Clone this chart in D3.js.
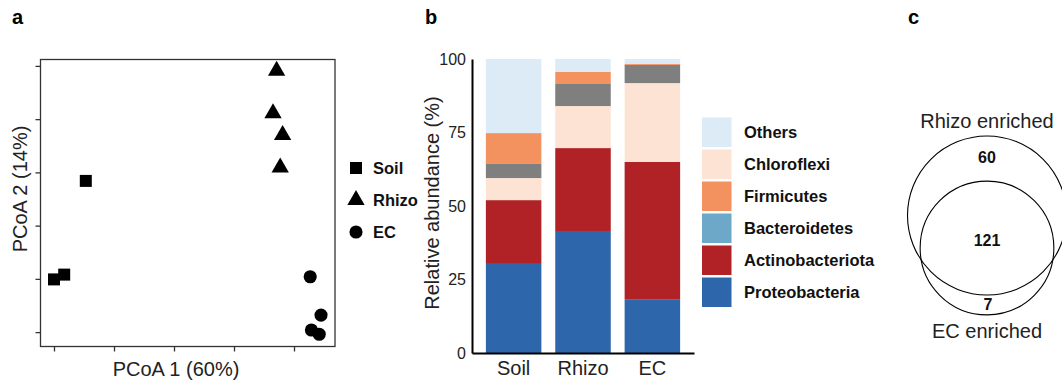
<!DOCTYPE html>
<html>
<head>
<meta charset="utf-8">
<script src="https://cdn.jsdelivr.net/npm/d3@7"></script>
<style>
  body { margin: 0; background: #fff; }
  text { font-family: "Liberation Sans", Arial, sans-serif; }
</style>
</head>
<body>
<div id="plot"></div>
<script>
// ---- panel a: PCoA points (arbitrary units, no tick labels in the figure)
var soilPts  = [[0.00, 0.99], [0.17, 1.08], [0.53, 2.84]];
var rhizoPts = [[3.71, 4.91], [3.65, 4.11], [3.81, 3.70], [3.77, 3.09]];
var ecPts    = [[4.27, 1.04], [4.45, 0.32], [4.29, 0.04], [4.42, -0.04]];
var pcoaXTicks = [0, 1, 2, 3, 4];
var pcoaYTicks = [0, 1, 2, 3, 4, 5];

// ---- panel b: relative abundance (%), stacked bottom -> top
var compartments = ["Soil", "Rhizo", "EC"];
var proteobacteria   = [30.3, 41.5, 18.3];
var actinobacteriota = [21.7, 28.2, 46.7];
var bacteroidetes    = [0, 0, 0];
var chloroflexi      = [7.5, 14.3, 26.8];
var unlisted         = [4.8, 7.5, 6.2];   // grey band, not in the legend
var firmicutes       = [10.5, 4.1, 0.4];
var others           = [25.2, 4.4, 1.6];
var abundanceTicks = [0, 25, 50, 75, 100];
var legendNames = ["Others", "Chloroflexi", "Firmicutes", "Bacteroidetes", "Actinobacteriota", "Proteobacteria"];

// ---- panel c: venn counts
var rhizoOnly = 60;
var shared = 121;
var ecOnly = 7;

var width = 1062, height = 381;
var svg = d3.select("#plot").append("svg")
  .attr("width", width).attr("height", height);

// panel letters
svg.append("text").attr("x", 12).attr("y", 24).attr("font-size", "20px").attr("font-weight", "bold").text("a");
svg.append("text").attr("x", 425).attr("y", 24).attr("font-size", "20px").attr("font-weight", "bold").text("b");
svg.append("text").attr("x", 908).attr("y", 24).attr("font-size", "20px").attr("font-weight", "bold").text("c");

// ================= panel a =================
var xA = d3.scaleLinear().domain([-0.225, 4.683]).range([40.5, 335]);
var yA = d3.scaleLinear().domain([-0.27, 5.12]).range([346.5, 59.5]);

var gA = svg.append("g");
gA.append("rect")
  .attr("x", 40.5).attr("y", 59.5)
  .attr("width", 335 - 40.5).attr("height", 346.5 - 59.5)
  .attr("fill", "none").attr("stroke", "#333").attr("stroke-width", 1.3);

gA.append("g").attr("transform", "translate(0,346.5)")
  .call(d3.axisBottom(xA).tickValues(pcoaXTicks).tickSize(5).tickFormat(""))
  .call(function(g){ g.select(".domain").remove(); })
  .selectAll("line").attr("stroke", "#333").attr("stroke-width", 1.3);

gA.append("g").attr("transform", "translate(40.5,0)")
  .call(d3.axisLeft(yA).tickValues(pcoaYTicks).tickSize(5).tickFormat(""))
  .call(function(g){ g.select(".domain").remove(); })
  .selectAll("line").attr("stroke", "#333").attr("stroke-width", 1.3);

var groupsA = [
  {name: "Soil", pts: soilPts, sym: d3.symbolSquare, size: 144},
  {name: "Rhizo", pts: rhizoPts, sym: d3.symbolTriangle, size: 130},
  {name: "EC", pts: ecPts, sym: d3.symbolCircle, size: 135}
];

groupsA.forEach(function(gr){
  gA.selectAll(null).data(gr.pts).enter().append("path")
    .attr("d", d3.symbol().type(gr.sym).size(gr.size))
    .attr("transform", function(d){ return "translate(" + xA(d[0]) + "," + yA(d[1]) + ")"; })
    .attr("fill", "#000");
});

var legA = gA.selectAll(".legA").data(groupsA).enter().append("g")
  .attr("transform", function(d, i){ return "translate(356," + (168 + i * 32) + ")"; });
legA.append("path")
  .attr("d", function(d){ return d3.symbol().type(d.sym).size(d.size)(); })
  .attr("fill", "#000");
legA.append("text").attr("x", 17).attr("dy", "0.36em")
  .attr("font-size", "16.5px").attr("font-weight", "bold").attr("fill", "#111")
  .text(function(d){ return d.name; });

gA.append("text").attr("x", 176).attr("y", 376)
  .attr("text-anchor", "middle").attr("font-size", "20px").attr("fill", "#222")
  .text("PCoA 1 (60%)");
gA.append("text").attr("transform", "translate(27,189) rotate(-90)")
  .attr("text-anchor", "middle").attr("font-size", "20px").attr("fill", "#222")
  .text("PCoA 2 (14%)");

// ================= panel b =================
var keys = ["Proteobacteria", "Actinobacteriota", "Bacteroidetes", "Chloroflexi", "Unlisted", "Firmicutes", "Others"];
var series = {
  Proteobacteria: proteobacteria, Actinobacteriota: actinobacteriota, Bacteroidetes: bacteroidetes,
  Chloroflexi: chloroflexi, Unlisted: unlisted, Firmicutes: firmicutes, Others: others
};
var color = d3.scaleOrdinal().domain(keys)
  .range(["#2e66ac", "#b02225", "#6ea8c8", "#fde3d3", "#7f7f7f", "#f4925f", "#dcebf6"]);

var table = compartments.map(function(c, i){
  var row = {compartment: c};
  keys.forEach(function(k){ row[k] = series[k][i]; });
  return row;
});
var stacked = d3.stack().keys(keys)(table);

var xB = d3.scaleBand().domain(compartments).range([472, 694]).paddingInner(0.2).paddingOuter(0.2);
var yB = d3.scaleLinear().domain([0, 100]).range([353, 59]);

var gB = svg.append("g");
gB.selectAll(".layer").data(stacked).enter().append("g")
  .attr("fill", function(d){ return color(d.key); })
  .selectAll("rect").data(function(d){ return d; }).enter().append("rect")
  .attr("x", function(d){ return xB(d.data.compartment); })
  .attr("y", function(d){ return yB(d[1]); })
  .attr("width", xB.bandwidth())
  .attr("height", function(d){ return yB(d[0]) - yB(d[1]); });

var yAxisB = gB.append("g").attr("transform", "translate(472,0)")
  .call(d3.axisLeft(yB).tickValues(abundanceTicks).tickSize(0).tickSizeOuter(0).tickPadding(6));
yAxisB.select(".domain").attr("stroke", "#000").attr("stroke-width", 2);
yAxisB.selectAll("text").attr("font-size", "16px").attr("fill", "#222")
  .attr("font-family", "Liberation Sans, Arial, sans-serif");

var xAxisB = gB.append("g").attr("transform", "translate(0,353)")
  .call(d3.axisBottom(xB).tickSize(0).tickSizeOuter(0).tickPadding(8));
xAxisB.select(".domain").attr("stroke", "#000").attr("stroke-width", 2);
xAxisB.selectAll("text").attr("font-size", "20px").attr("fill", "#222")
  .attr("font-family", "Liberation Sans, Arial, sans-serif");

gB.append("text").attr("transform", "translate(439,203) rotate(-90)")
  .attr("text-anchor", "middle").attr("font-size", "20px").attr("fill", "#222")
  .text("Relative abundance (%)");

var legB = gB.selectAll(".legB").data(legendNames).enter().append("g")
  .attr("transform", function(d, i){ return "translate(702," + (117.5 + i * 32) + ")"; });
legB.append("rect").attr("width", 29.5).attr("height", 29.5)
  .attr("fill", function(d){ return color(d); });
legB.append("text").attr("x", 42).attr("y", 15).attr("dy", "0.36em")
  .attr("font-size", "16.5px").attr("font-weight", "bold").attr("fill", "#111")
  .text(function(d){ return d; });

// ================= panel c =================
var rScale = d3.scaleSqrt().domain([0, rhizoOnly + shared]).range([0, 79.5]);
var rRhizo = rScale(rhizoOnly + shared);
var rEC = rScale(shared + ecOnly);
var cx = 987, cyRhizo = 215.5, cyEC = 248;

var gC = svg.append("g");
gC.append("circle").attr("cx", cx).attr("cy", cyRhizo).attr("r", rRhizo)
  .attr("fill", "none").attr("stroke", "#000").attr("stroke-width", 1.1);
gC.append("circle").attr("cx", cx).attr("cy", cyEC).attr("r", rEC)
  .attr("fill", "none").attr("stroke", "#000").attr("stroke-width", 1.1);

gC.append("text").attr("x", cx).attr("y", 127.5).attr("text-anchor", "middle")
  .attr("font-size", "20px").attr("fill", "#222").text("Rhizo enriched");
gC.append("text").attr("x", cx).attr("y", 337.5).attr("text-anchor", "middle")
  .attr("font-size", "20px").attr("fill", "#222").text("EC enriched");

gC.append("text").attr("x", cx).attr("y", 162.5).attr("text-anchor", "middle")
  .attr("font-size", "16px").attr("font-weight", "bold").attr("fill", "#111").text(rhizoOnly);
gC.append("text").attr("x", cx).attr("y", 246).attr("text-anchor", "middle")
  .attr("font-size", "16px").attr("font-weight", "bold").attr("fill", "#111").text(shared);
gC.append("text").attr("x", cx + 1).attr("y", 310).attr("text-anchor", "middle")
  .attr("font-size", "16px").attr("font-weight", "bold").attr("fill", "#111").text(ecOnly);
</script>
</body>
</html>
